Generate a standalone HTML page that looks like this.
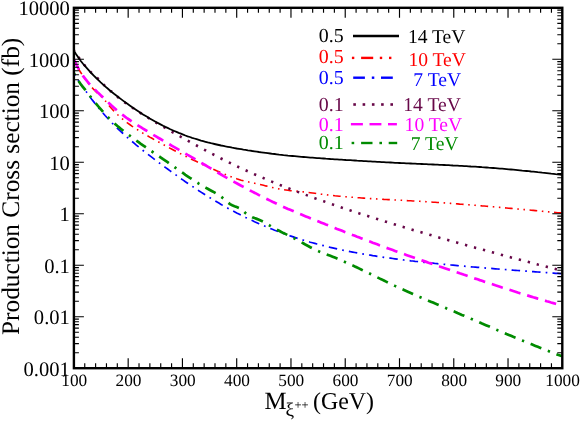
<!DOCTYPE html>
<html><head><meta charset="utf-8"><title>plot</title>
<style>
html,body{margin:0;padding:0;background:#fff;}
body{width:581px;height:422px;overflow:hidden;font-family:"Liberation Serif",serif;}
svg{display:block;will-change:transform;}
text{font-family:"Liberation Serif",serif;text-rendering:geometricPrecision;}
</style></head><body>
<svg width="581" height="422" viewBox="0 0 581 422">
<rect x="0" y="0" width="581" height="422" fill="#ffffff"/>

<defs><clipPath id="c"><rect x="73.9" y="7.8" width="488.4" height="360.4"/></clipPath></defs>
<g clip-path="url(#c)" fill="none">
<path d="M73.9,60.1 L76.1,64.5 L78.4,68.5 L80.6,72.3 L82.8,75.8 L85.1,79.0 L87.3,82.0 L89.5,84.8 L91.7,87.3 L94.0,89.7 L96.2,91.8 L98.4,93.9 L100.7,96.0 L102.9,98.1 L105.1,100.6 L107.4,103.4 L109.6,106.2 L111.8,108.7 L114.0,111.1 L116.3,113.4 L118.5,115.5 L120.7,117.5 L123.0,119.4 L125.2,121.1 L127.4,122.9 L129.7,124.5 L131.9,126.1 L134.1,127.6 L136.3,129.0 L138.6,130.4 L140.8,131.8 L143.0,133.2 L145.3,134.5 L147.5,135.8 L149.7,137.1 L152.0,138.3 L154.2,139.6 L156.4,140.8 L158.6,142.0 L160.9,143.3 L163.1,144.5 L165.3,145.7 L167.6,146.9 L169.8,148.1 L172.0,149.3 L174.3,150.5 L176.5,151.6 L178.7,152.8 L180.9,153.9 L183.2,155.1 L185.4,156.2 L187.6,157.3 L189.9,158.4 L192.1,159.5 L194.3,160.6 L196.6,161.6 L198.8,162.7 L201.0,163.7 L203.2,164.8 L205.5,165.8 L207.7,166.8 L209.9,167.8 L212.2,168.8 L214.4,169.8 L216.6,170.8 L218.9,171.7 L221.1,172.7 L223.3,173.6 L225.5,174.5 L227.8,175.4 L230.0,176.3 L232.2,177.2 L234.5,178.0 L236.7,178.8 L238.9,179.5 L241.2,180.2 L243.4,180.7 L245.6,181.3 L247.9,181.8 L250.1,182.3 L252.3,182.7 L254.5,183.2 L256.8,183.7 L259.0,184.3 L261.2,184.8 L263.5,185.3 L265.7,185.9 L267.9,186.4 L270.2,187.0 L272.4,187.5 L274.6,188.0 L276.8,188.4 L279.1,188.9 L281.3,189.3 L283.5,189.7 L285.8,190.0 L288.0,190.3 L290.2,190.6 L292.5,190.8 L294.7,191.0 L296.9,191.2 L299.1,191.4 L301.4,191.7 L303.6,191.9 L305.8,192.1 L308.1,192.4 L310.3,192.7 L312.5,193.0 L314.8,193.3 L317.0,193.6 L319.2,193.9 L321.4,194.2 L323.7,194.5 L325.9,194.7 L328.1,195.0 L330.4,195.3 L332.6,195.5 L334.8,195.8 L337.1,196.0 L339.3,196.2 L341.5,196.4 L343.7,196.6 L346.0,196.8 L348.2,197.0 L350.4,197.2 L352.7,197.3 L354.9,197.5 L357.1,197.7 L359.4,197.8 L361.6,198.0 L363.8,198.1 L366.0,198.3 L368.3,198.4 L370.5,198.6 L372.7,198.7 L375.0,198.8 L377.2,199.0 L379.4,199.1 L381.7,199.2 L383.9,199.4 L386.1,199.5 L388.3,199.6 L390.6,199.7 L392.8,199.9 L395.0,200.0 L397.3,200.1 L399.5,200.2 L401.7,200.3 L404.0,200.5 L406.2,200.6 L408.4,200.7 L410.7,200.8 L412.9,201.0 L415.1,201.1 L417.3,201.2 L419.6,201.3 L421.8,201.5 L424.0,201.6 L426.3,201.7 L428.5,201.9 L430.7,202.0 L433.0,202.2 L435.2,202.3 L437.4,202.5 L439.6,202.6 L441.9,202.8 L444.1,202.9 L446.3,203.1 L448.6,203.2 L450.8,203.4 L453.0,203.6 L455.3,203.7 L457.5,203.9 L459.7,204.1 L461.9,204.2 L464.2,204.4 L466.4,204.6 L468.6,204.8 L470.9,204.9 L473.1,205.1 L475.3,205.3 L477.6,205.5 L479.8,205.7 L482.0,205.9 L484.2,206.0 L486.5,206.2 L488.7,206.4 L490.9,206.6 L493.2,206.8 L495.4,207.0 L497.6,207.2 L499.9,207.4 L502.1,207.6 L504.3,207.8 L506.5,208.0 L508.8,208.2 L511.0,208.4 L513.2,208.6 L515.5,208.8 L517.7,209.0 L519.9,209.2 L522.2,209.4 L524.4,209.6 L526.6,209.8 L528.8,210.0 L531.1,210.2 L533.3,210.4 L535.5,210.6 L537.8,210.8 L540.0,211.0 L542.2,211.3 L544.5,211.5 L546.7,211.7 L548.9,211.9 L551.1,212.1 L553.4,212.3 L555.6,212.5 L557.8,212.7 L560.1,212.9 L562.3,213.1" stroke="#ff0000" stroke-width="1.6" stroke-dasharray="1.54 4.62 7.70 4.62 1.54 4.62" stroke-dashoffset="-2.3"/>
<path d="M73.9,74.4 L76.1,77.5 L78.4,80.7 L80.6,83.9 L82.8,87.0 L85.1,90.1 L87.3,93.2 L89.5,96.2 L91.7,99.2 L94.0,102.1 L96.2,104.9 L98.4,107.7 L100.7,110.4 L102.9,113.0 L105.1,115.5 L107.4,118.0 L109.6,120.4 L111.8,122.7 L114.0,125.0 L116.3,127.2 L118.5,129.3 L120.7,131.4 L123.0,133.5 L125.2,135.5 L127.4,137.5 L129.7,139.4 L131.9,141.3 L134.1,143.2 L136.3,145.1 L138.6,146.9 L140.8,148.7 L143.0,150.5 L145.3,152.3 L147.5,154.0 L149.7,155.7 L152.0,157.4 L154.2,159.1 L156.4,160.8 L158.6,162.5 L160.9,164.1 L163.1,165.8 L165.3,167.4 L167.6,169.0 L169.8,170.6 L172.0,172.2 L174.3,173.8 L176.5,175.4 L178.7,177.0 L180.9,178.6 L183.2,180.1 L185.4,181.7 L187.6,183.2 L189.9,184.7 L192.1,186.2 L194.3,187.7 L196.6,189.2 L198.8,190.7 L201.0,192.1 L203.2,193.5 L205.5,195.0 L207.7,196.4 L209.9,197.7 L212.2,199.1 L214.4,200.5 L216.6,201.8 L218.9,203.1 L221.1,204.4 L223.3,205.7 L225.5,206.9 L227.8,208.2 L230.0,209.4 L232.2,210.6 L234.5,211.8 L236.7,213.0 L238.9,214.1 L241.2,215.2 L243.4,216.4 L245.6,217.5 L247.9,218.5 L250.1,219.6 L252.3,220.6 L254.5,221.7 L256.8,222.7 L259.0,223.7 L261.2,224.6 L263.5,225.6 L265.7,226.5 L267.9,227.5 L270.2,228.4 L272.4,229.3 L274.6,230.2 L276.8,231.0 L279.1,231.9 L281.3,232.7 L283.5,233.5 L285.8,234.3 L288.0,235.1 L290.2,235.9 L292.5,236.6 L294.7,237.4 L296.9,238.1 L299.1,238.8 L301.4,239.5 L303.6,240.2 L305.8,240.8 L308.1,241.5 L310.3,242.2 L312.5,242.8 L314.8,243.4 L317.0,244.0 L319.2,244.6 L321.4,245.2 L323.7,245.7 L325.9,246.3 L328.1,246.8 L330.4,247.4 L332.6,247.9 L334.8,248.4 L337.1,248.9 L339.3,249.4 L341.5,249.9 L343.7,250.3 L346.0,250.8 L348.2,251.2 L350.4,251.7 L352.7,252.1 L354.9,252.5 L357.1,252.9 L359.4,253.3 L361.6,253.7 L363.8,254.1 L366.0,254.5 L368.3,254.9 L370.5,255.2 L372.7,255.6 L375.0,255.9 L377.2,256.3 L379.4,256.6 L381.7,256.9 L383.9,257.3 L386.1,257.6 L388.3,257.9 L390.6,258.2 L392.8,258.5 L395.0,258.8 L397.3,259.1 L399.5,259.4 L401.7,259.7 L404.0,260.0 L406.2,260.2 L408.4,260.5 L410.7,260.8 L412.9,261.0 L415.1,261.3 L417.3,261.5 L419.6,261.8 L421.8,262.0 L424.0,262.3 L426.3,262.5 L428.5,262.8 L430.7,263.0 L433.0,263.2 L435.2,263.5 L437.4,263.7 L439.6,263.9 L441.9,264.1 L444.1,264.3 L446.3,264.6 L448.6,264.8 L450.8,265.0 L453.0,265.2 L455.3,265.4 L457.5,265.6 L459.7,265.8 L461.9,266.0 L464.2,266.2 L466.4,266.4 L468.6,266.6 L470.9,266.8 L473.1,267.0 L475.3,267.1 L477.6,267.3 L479.8,267.5 L482.0,267.7 L484.2,267.9 L486.5,268.1 L488.7,268.2 L490.9,268.4 L493.2,268.6 L495.4,268.8 L497.6,269.0 L499.9,269.1 L502.1,269.3 L504.3,269.5 L506.5,269.6 L508.8,269.8 L511.0,270.0 L513.2,270.2 L515.5,270.3 L517.7,270.5 L519.9,270.7 L522.2,270.8 L524.4,271.0 L526.6,271.1 L528.8,271.3 L531.1,271.5 L533.3,271.6 L535.5,271.8 L537.8,272.0 L540.0,272.1 L542.2,272.3 L544.5,272.4 L546.7,272.6 L548.9,272.8 L551.1,272.9 L553.4,273.1 L555.6,273.3 L557.8,273.4 L560.1,273.6 L562.3,273.7" stroke="#0000ff" stroke-width="1.7" stroke-dasharray="8.54 5.12 1.71 5.12" stroke-dashoffset="-7.2"/>
<path d="M73.9,50.3 L76.1,53.7 L78.4,57.0 L80.6,60.2 L82.8,63.1 L85.1,65.9 L87.3,68.5 L89.5,70.9 L91.7,73.0 L94.0,75.0 L96.2,77.0 L98.4,79.0 L100.7,81.1 L102.9,83.5 L105.1,86.2 L107.4,89.1 L109.6,90.8 L111.8,91.7 L114.0,93.3 L116.3,95.6 L118.5,97.7 L120.7,99.4 L123.0,101.1 L125.2,102.8 L127.4,104.4 L129.7,105.9 L131.9,107.4 L134.1,108.9 L136.3,110.4 L138.6,111.8 L140.8,113.2 L143.0,114.7 L145.3,116.0 L147.5,117.4 L149.7,118.8 L152.0,120.1 L154.2,121.5 L156.4,122.8 L158.6,124.1 L160.9,125.4 L163.1,126.7 L165.3,128.0 L167.6,129.3 L169.8,130.6 L172.0,131.9 L174.3,133.1 L176.5,134.4 L178.7,135.7 L180.9,136.9 L183.2,138.1 L185.4,139.4 L187.6,140.6 L189.9,141.9 L192.1,143.1 L194.3,144.3 L196.6,145.5 L198.8,146.7 L201.0,147.9 L203.2,149.1 L205.5,150.3 L207.7,151.5 L209.9,152.7 L212.2,153.9 L214.4,155.0 L216.6,156.2 L218.9,157.3 L221.1,158.5 L223.3,159.6 L225.5,160.7 L227.8,161.8 L230.0,162.9 L232.2,164.0 L234.5,165.0 L236.7,166.1 L238.9,167.2 L241.2,168.2 L243.4,169.2 L245.6,170.3 L247.9,171.3 L250.1,172.3 L252.3,173.3 L254.5,174.3 L256.8,175.2 L259.0,176.2 L261.2,177.2 L263.5,178.1 L265.7,179.1 L267.9,180.0 L270.2,181.0 L272.4,181.9 L274.6,182.8 L276.8,183.7 L279.1,184.6 L281.3,185.5 L283.5,186.4 L285.8,187.3 L288.0,188.2 L290.2,189.0 L292.5,189.9 L294.7,190.7 L296.9,191.6 L299.1,192.4 L301.4,193.3 L303.6,194.1 L305.8,194.9 L308.1,195.7 L310.3,196.6 L312.5,197.4 L314.8,198.2 L317.0,199.0 L319.2,199.8 L321.4,200.6 L323.7,201.3 L325.9,202.1 L328.1,202.9 L330.4,203.7 L332.6,204.4 L334.8,205.2 L337.1,206.0 L339.3,206.7 L341.5,207.5 L343.7,208.2 L346.0,209.0 L348.2,209.7 L350.4,210.4 L352.7,211.2 L354.9,211.9 L357.1,212.6 L359.4,213.4 L361.6,214.1 L363.8,214.8 L366.0,215.5 L368.3,216.2 L370.5,216.9 L372.7,217.6 L375.0,218.3 L377.2,219.0 L379.4,219.7 L381.7,220.4 L383.9,221.1 L386.1,221.8 L388.3,222.5 L390.6,223.2 L392.8,223.9 L395.0,224.5 L397.3,225.2 L399.5,225.9 L401.7,226.6 L404.0,227.2 L406.2,227.9 L408.4,228.6 L410.7,229.2 L412.9,229.9 L415.1,230.5 L417.3,231.2 L419.6,231.9 L421.8,232.5 L424.0,233.2 L426.3,233.8 L428.5,234.5 L430.7,235.1 L433.0,235.8 L435.2,236.4 L437.4,237.0 L439.6,237.7 L441.9,238.3 L444.1,238.9 L446.3,239.6 L448.6,240.2 L450.8,240.8 L453.0,241.5 L455.3,242.1 L457.5,242.7 L459.7,243.4 L461.9,244.0 L464.2,244.6 L466.4,245.2 L468.6,245.8 L470.9,246.5 L473.1,247.1 L475.3,247.7 L477.6,248.3 L479.8,248.9 L482.0,249.5 L484.2,250.1 L486.5,250.7 L488.7,251.4 L490.9,252.0 L493.2,252.6 L495.4,253.2 L497.6,253.8 L499.9,254.4 L502.1,255.0 L504.3,255.6 L506.5,256.2 L508.8,256.8 L511.0,257.4 L513.2,258.0 L515.5,258.6 L517.7,259.2 L519.9,259.7 L522.2,260.3 L524.4,260.9 L526.6,261.5 L528.8,262.1 L531.1,262.7 L533.3,263.3 L535.5,263.9 L537.8,264.5 L540.0,265.0 L542.2,265.6 L544.5,266.2 L546.7,266.8 L548.9,267.4 L551.1,267.9 L553.4,268.5 L555.6,269.1 L557.8,269.7 L560.1,270.2 L562.3,270.8" stroke="#670748" stroke-width="2.6" stroke-dasharray="2.32 6.96" stroke-dashoffset="1.2"/>
<path d="M73.9,50.8 L76.1,54.3 L78.4,57.6 L80.6,60.7 L82.8,63.5 L85.1,66.2 L87.3,68.7 L89.5,71.2 L91.7,73.5 L94.0,75.8 L96.2,78.0 L98.4,80.1 L100.7,82.3 L102.9,84.3 L105.1,86.4 L107.4,88.3 L109.6,90.2 L111.8,92.0 L114.0,93.8 L116.3,95.5 L118.5,97.2 L120.7,98.9 L123.0,100.6 L125.2,102.2 L127.4,103.8 L129.7,105.4 L131.9,107.0 L134.1,108.5 L136.3,110.0 L138.6,111.5 L140.8,113.0 L143.0,114.4 L145.3,115.8 L147.5,117.1 L149.7,118.5 L152.0,119.8 L154.2,121.0 L156.4,122.2 L158.6,123.4 L160.9,124.6 L163.1,125.8 L165.3,126.9 L167.6,127.9 L169.8,129.0 L172.0,130.0 L174.3,131.0 L176.5,131.9 L178.7,132.9 L180.9,133.7 L183.2,134.6 L185.4,135.5 L187.6,136.3 L189.9,137.0 L192.1,137.8 L194.3,138.5 L196.6,139.2 L198.8,139.9 L201.0,140.6 L203.2,141.2 L205.5,141.8 L207.7,142.4 L209.9,142.9 L212.2,143.5 L214.4,144.0 L216.6,144.5 L218.9,145.0 L221.1,145.5 L223.3,145.9 L225.5,146.4 L227.8,146.8 L230.0,147.2 L232.2,147.7 L234.5,148.1 L236.7,148.5 L238.9,148.8 L241.2,149.2 L243.4,149.6 L245.6,149.9 L247.9,150.3 L250.1,150.6 L252.3,151.0 L254.5,151.3 L256.8,151.6 L259.0,152.0 L261.2,152.3 L263.5,152.6 L265.7,152.9 L267.9,153.2 L270.2,153.5 L272.4,153.8 L274.6,154.0 L276.8,154.3 L279.1,154.6 L281.3,154.8 L283.5,155.1 L285.8,155.3 L288.0,155.6 L290.2,155.8 L292.5,156.0 L294.7,156.2 L296.9,156.4 L299.1,156.6 L301.4,156.8 L303.6,157.0 L305.8,157.2 L308.1,157.4 L310.3,157.6 L312.5,157.7 L314.8,157.9 L317.0,158.1 L319.2,158.2 L321.4,158.4 L323.7,158.5 L325.9,158.7 L328.1,158.8 L330.4,159.0 L332.6,159.1 L334.8,159.3 L337.1,159.4 L339.3,159.6 L341.5,159.7 L343.7,159.8 L346.0,160.0 L348.2,160.1 L350.4,160.2 L352.7,160.4 L354.9,160.5 L357.1,160.7 L359.4,160.8 L361.6,160.9 L363.8,161.1 L366.0,161.2 L368.3,161.3 L370.5,161.4 L372.7,161.6 L375.0,161.7 L377.2,161.8 L379.4,161.9 L381.7,162.1 L383.9,162.2 L386.1,162.3 L388.3,162.4 L390.6,162.5 L392.8,162.6 L395.0,162.8 L397.3,162.9 L399.5,163.0 L401.7,163.1 L404.0,163.2 L406.2,163.3 L408.4,163.4 L410.7,163.5 L412.9,163.6 L415.1,163.7 L417.3,163.8 L419.6,163.9 L421.8,164.0 L424.0,164.1 L426.3,164.2 L428.5,164.3 L430.7,164.4 L433.0,164.5 L435.2,164.6 L437.4,164.7 L439.6,164.8 L441.9,164.9 L444.1,165.0 L446.3,165.1 L448.6,165.2 L450.8,165.3 L453.0,165.5 L455.3,165.6 L457.5,165.7 L459.7,165.8 L461.9,165.9 L464.2,166.1 L466.4,166.2 L468.6,166.3 L470.9,166.5 L473.1,166.6 L475.3,166.7 L477.6,166.9 L479.8,167.0 L482.0,167.2 L484.2,167.3 L486.5,167.5 L488.7,167.7 L490.9,167.8 L493.2,168.0 L495.4,168.2 L497.6,168.4 L499.9,168.6 L502.1,168.7 L504.3,168.9 L506.5,169.1 L508.8,169.3 L511.0,169.5 L513.2,169.7 L515.5,169.9 L517.7,170.1 L519.9,170.3 L522.2,170.6 L524.4,170.8 L526.6,171.0 L528.8,171.2 L531.1,171.5 L533.3,171.7 L535.5,171.9 L537.8,172.2 L540.0,172.4 L542.2,172.7 L544.5,172.9 L546.7,173.1 L548.9,173.4 L551.1,173.7 L553.4,173.9 L555.6,174.2 L557.8,174.4 L560.1,174.7 L562.3,175.0" stroke="#000000" stroke-width="1.8"/>
<path d="M73.9,59.2 L76.1,64.1 L78.4,68.4 L80.6,72.2 L82.8,75.6 L85.1,78.6 L87.3,81.4 L89.5,84.0 L91.7,86.4 L94.0,88.7 L96.2,90.9 L98.4,93.1 L100.7,95.2 L102.9,97.3 L105.1,99.4 L107.4,101.6 L109.6,103.7 L111.8,105.8 L114.0,107.8 L116.3,109.8 L118.5,111.7 L120.7,113.5 L123.0,115.2 L125.2,116.9 L127.4,118.5 L129.7,120.0 L131.9,121.5 L134.1,123.0 L136.3,124.4 L138.6,125.8 L140.8,127.2 L143.0,128.6 L145.3,130.0 L147.5,131.3 L149.7,132.7 L152.0,134.0 L154.2,135.4 L156.4,136.7 L158.6,138.0 L160.9,139.3 L163.1,140.6 L165.3,141.9 L167.6,143.2 L169.8,144.5 L172.0,145.8 L174.3,147.1 L176.5,148.4 L178.7,149.7 L180.9,151.0 L183.2,152.3 L185.4,153.6 L187.6,154.9 L189.9,156.1 L192.1,157.4 L194.3,158.7 L196.6,160.0 L198.8,161.4 L201.0,162.7 L203.2,164.0 L205.5,165.3 L207.7,166.6 L209.9,167.9 L212.2,169.2 L214.4,170.5 L216.6,171.9 L218.9,173.2 L221.1,174.5 L223.3,175.8 L225.5,177.1 L227.8,178.3 L230.0,179.6 L232.2,180.9 L234.5,182.1 L236.7,183.3 L238.9,184.5 L241.2,185.7 L243.4,186.9 L245.6,188.1 L247.9,189.3 L250.1,190.5 L252.3,191.6 L254.5,192.8 L256.8,193.9 L259.0,195.1 L261.2,196.2 L263.5,197.3 L265.7,198.4 L267.9,199.5 L270.2,200.6 L272.4,201.7 L274.6,202.7 L276.8,203.8 L279.1,204.8 L281.3,205.9 L283.5,206.9 L285.8,207.9 L288.0,208.9 L290.2,209.8 L292.5,210.8 L294.7,211.8 L296.9,212.7 L299.1,213.7 L301.4,214.6 L303.6,215.5 L305.8,216.4 L308.1,217.3 L310.3,218.2 L312.5,219.1 L314.8,220.0 L317.0,220.9 L319.2,221.8 L321.4,222.7 L323.7,223.6 L325.9,224.5 L328.1,225.3 L330.4,226.2 L332.6,227.1 L334.8,228.0 L337.1,228.9 L339.3,229.7 L341.5,230.6 L343.7,231.5 L346.0,232.4 L348.2,233.2 L350.4,234.1 L352.7,235.0 L354.9,235.8 L357.1,236.7 L359.4,237.5 L361.6,238.4 L363.8,239.3 L366.0,240.1 L368.3,241.0 L370.5,241.8 L372.7,242.7 L375.0,243.5 L377.2,244.3 L379.4,245.2 L381.7,246.0 L383.9,246.8 L386.1,247.7 L388.3,248.5 L390.6,249.3 L392.8,250.1 L395.0,250.9 L397.3,251.7 L399.5,252.5 L401.7,253.3 L404.0,254.1 L406.2,254.9 L408.4,255.7 L410.7,256.5 L412.9,257.3 L415.1,258.1 L417.3,258.8 L419.6,259.6 L421.8,260.4 L424.0,261.1 L426.3,261.9 L428.5,262.7 L430.7,263.4 L433.0,264.2 L435.2,265.0 L437.4,265.7 L439.6,266.5 L441.9,267.2 L444.1,268.0 L446.3,268.7 L448.6,269.5 L450.8,270.3 L453.0,271.0 L455.3,271.8 L457.5,272.5 L459.7,273.3 L461.9,274.0 L464.2,274.8 L466.4,275.5 L468.6,276.3 L470.9,277.0 L473.1,277.8 L475.3,278.6 L477.6,279.3 L479.8,280.1 L482.0,280.8 L484.2,281.6 L486.5,282.3 L488.7,283.0 L490.9,283.8 L493.2,284.5 L495.4,285.3 L497.6,286.0 L499.9,286.7 L502.1,287.5 L504.3,288.2 L506.5,288.9 L508.8,289.6 L511.0,290.3 L513.2,291.0 L515.5,291.7 L517.7,292.5 L519.9,293.2 L522.2,293.8 L524.4,294.5 L526.6,295.2 L528.8,295.9 L531.1,296.6 L533.3,297.3 L535.5,297.9 L537.8,298.6 L540.0,299.2 L542.2,299.9 L544.5,300.5 L546.7,301.2 L548.9,301.8 L551.1,302.5 L553.4,303.1 L555.6,303.7 L557.8,304.3 L560.1,304.9 L562.3,305.5" stroke="#ff00ff" stroke-width="2.7" stroke-dasharray="11.60 6.96" stroke-dashoffset="0"/>
<path d="M73.9,73.0 L76.1,77.3 L78.4,80.9 L80.6,84.0 L82.8,86.8 L85.1,89.7 L87.3,92.5 L89.5,95.4 L91.7,98.2 L94.0,101.1 L96.2,103.8 L98.4,106.5 L100.7,109.2 L102.9,111.7 L105.1,114.2 L107.4,116.5 L109.6,118.8 L111.8,120.9 L114.0,123.0 L116.3,125.0 L118.5,126.9 L120.7,128.7 L123.0,130.5 L125.2,132.3 L127.4,134.0 L129.7,135.7 L131.9,137.4 L134.1,139.0 L136.3,140.6 L138.6,142.2 L140.8,143.8 L143.0,145.3 L145.3,146.9 L147.5,148.4 L149.7,150.0 L152.0,151.5 L154.2,153.0 L156.4,154.6 L158.6,156.1 L160.9,157.6 L163.1,159.2 L165.3,160.7 L167.6,162.2 L169.8,163.8 L172.0,165.4 L174.3,166.9 L176.5,168.5 L178.7,170.1 L180.9,171.6 L183.2,173.2 L185.4,174.8 L187.6,176.3 L189.9,177.8 L192.1,179.3 L194.3,180.7 L196.6,182.2 L198.8,183.6 L201.0,184.9 L203.2,186.3 L205.5,187.6 L207.7,188.8 L209.9,190.0 L212.2,191.2 L214.4,192.4 L216.6,193.7 L218.9,195.1 L221.1,196.7 L223.3,198.4 L225.5,200.3 L227.8,202.3 L230.0,204.1 L232.2,205.3 L234.5,206.2 L236.7,207.0 L238.9,207.9 L241.2,209.3 L243.4,211.2 L245.6,213.2 L247.9,214.8 L250.1,216.1 L252.3,217.2 L254.5,218.1 L256.8,218.9 L259.0,219.7 L261.2,220.7 L263.5,221.8 L265.7,223.1 L267.9,224.4 L270.2,225.8 L272.4,227.2 L274.6,228.4 L276.8,229.7 L279.1,230.8 L281.3,232.0 L283.5,233.1 L285.8,234.1 L288.0,235.2 L290.2,236.3 L292.5,237.5 L294.7,238.6 L296.9,239.8 L299.1,241.0 L301.4,242.3 L303.6,243.5 L305.8,244.8 L308.1,246.0 L310.3,247.2 L312.5,248.4 L314.8,249.5 L317.0,250.5 L319.2,251.5 L321.4,252.4 L323.7,253.3 L325.9,254.2 L328.1,255.0 L330.4,255.8 L332.6,256.7 L334.8,257.6 L337.1,258.5 L339.3,259.4 L341.5,260.4 L343.7,261.4 L346.0,262.4 L348.2,263.4 L350.4,264.4 L352.7,265.4 L354.9,266.5 L357.1,267.5 L359.4,268.6 L361.6,269.7 L363.8,270.7 L366.0,271.8 L368.3,272.9 L370.5,274.0 L372.7,275.1 L375.0,276.2 L377.2,277.3 L379.4,278.4 L381.7,279.4 L383.9,280.5 L386.1,281.6 L388.3,282.7 L390.6,283.8 L392.8,284.8 L395.0,285.9 L397.3,286.9 L399.5,288.0 L401.7,289.0 L404.0,290.0 L406.2,291.0 L408.4,292.0 L410.7,293.0 L412.9,294.0 L415.1,295.0 L417.3,296.0 L419.6,296.9 L421.8,297.9 L424.0,298.9 L426.3,299.8 L428.5,300.8 L430.7,301.7 L433.0,302.6 L435.2,303.6 L437.4,304.5 L439.6,305.5 L441.9,306.4 L444.1,307.3 L446.3,308.3 L448.6,309.2 L450.8,310.1 L453.0,311.1 L455.3,312.0 L457.5,313.0 L459.7,313.9 L461.9,314.9 L464.2,315.8 L466.4,316.8 L468.6,317.7 L470.9,318.7 L473.1,319.6 L475.3,320.6 L477.6,321.5 L479.8,322.5 L482.0,323.5 L484.2,324.4 L486.5,325.4 L488.7,326.3 L490.9,327.3 L493.2,328.3 L495.4,329.2 L497.6,330.2 L499.9,331.1 L502.1,332.1 L504.3,333.0 L506.5,334.0 L508.8,334.9 L511.0,335.8 L513.2,336.8 L515.5,337.7 L517.7,338.6 L519.9,339.6 L522.2,340.5 L524.4,341.4 L526.6,342.3 L528.8,343.2 L531.1,344.1 L533.3,345.0 L535.5,345.9 L537.8,346.8 L540.0,347.7 L542.2,348.6 L544.5,349.5 L546.7,350.4 L548.9,351.2 L551.1,352.1 L553.4,353.0 L555.6,353.8 L557.8,354.7 L560.1,355.5 L562.3,356.3" stroke="#008b00" stroke-width="2.7" stroke-dasharray="2.32 6.96 11.60 6.96" stroke-dashoffset="0"/>
</g>
<path d="M73.90,368.2v-10M73.90,7.8v10M84.75,368.2v-5M84.75,7.8v5M95.61,368.2v-5M95.61,7.8v5M106.46,368.2v-5M106.46,7.8v5M117.31,368.2v-5M117.31,7.8v5M128.17,368.2v-10M128.17,7.8v10M139.02,368.2v-5M139.02,7.8v5M149.87,368.2v-5M149.87,7.8v5M160.73,368.2v-5M160.73,7.8v5M171.58,368.2v-5M171.58,7.8v5M182.43,368.2v-10M182.43,7.8v10M193.29,368.2v-5M193.29,7.8v5M204.14,368.2v-5M204.14,7.8v5M214.99,368.2v-5M214.99,7.8v5M225.85,368.2v-5M225.85,7.8v5M236.70,368.2v-10M236.70,7.8v10M247.55,368.2v-5M247.55,7.8v5M258.41,368.2v-5M258.41,7.8v5M269.26,368.2v-5M269.26,7.8v5M280.11,368.2v-5M280.11,7.8v5M290.97,368.2v-10M290.97,7.8v10M301.82,368.2v-5M301.82,7.8v5M312.67,368.2v-5M312.67,7.8v5M323.53,368.2v-5M323.53,7.8v5M334.38,368.2v-5M334.38,7.8v5M345.23,368.2v-10M345.23,7.8v10M356.09,368.2v-5M356.09,7.8v5M366.94,368.2v-5M366.94,7.8v5M377.79,368.2v-5M377.79,7.8v5M388.65,368.2v-5M388.65,7.8v5M399.50,368.2v-10M399.50,7.8v10M410.35,368.2v-5M410.35,7.8v5M421.21,368.2v-5M421.21,7.8v5M432.06,368.2v-5M432.06,7.8v5M442.91,368.2v-5M442.91,7.8v5M453.77,368.2v-10M453.77,7.8v10M464.62,368.2v-5M464.62,7.8v5M475.47,368.2v-5M475.47,7.8v5M486.33,368.2v-5M486.33,7.8v5M497.18,368.2v-5M497.18,7.8v5M508.03,368.2v-10M508.03,7.8v10M518.89,368.2v-5M518.89,7.8v5M529.74,368.2v-5M529.74,7.8v5M540.59,368.2v-5M540.59,7.8v5M551.45,368.2v-5M551.45,7.8v5M562.30,368.2v-10M562.30,7.8v10M73.9,368.20h10M562.3,368.20h-10M73.9,352.70h5M562.3,352.70h-5M73.9,343.64h5M562.3,343.64h-5M73.9,337.20h5M562.3,337.20h-5M73.9,332.21h5M562.3,332.21h-5M73.9,328.14h5M562.3,328.14h-5M73.9,324.69h5M562.3,324.69h-5M73.9,321.70h5M562.3,321.70h-5M73.9,319.07h5M562.3,319.07h-5M73.9,316.71h10M562.3,316.71h-10M73.9,301.22h5M562.3,301.22h-5M73.9,292.15h5M562.3,292.15h-5M73.9,285.72h5M562.3,285.72h-5M73.9,280.73h5M562.3,280.73h-5M73.9,276.65h5M562.3,276.65h-5M73.9,273.20h5M562.3,273.20h-5M73.9,270.22h5M562.3,270.22h-5M73.9,267.58h5M562.3,267.58h-5M73.9,265.23h10M562.3,265.23h-10M73.9,249.73h5M562.3,249.73h-5M73.9,240.66h5M562.3,240.66h-5M73.9,234.23h5M562.3,234.23h-5M73.9,229.24h5M562.3,229.24h-5M73.9,225.16h5M562.3,225.16h-5M73.9,221.72h5M562.3,221.72h-5M73.9,218.73h5M562.3,218.73h-5M73.9,216.10h5M562.3,216.10h-5M73.9,213.74h10M562.3,213.74h-10M73.9,198.24h5M562.3,198.24h-5M73.9,189.18h5M562.3,189.18h-5M73.9,182.75h5M562.3,182.75h-5M73.9,177.76h5M562.3,177.76h-5M73.9,173.68h5M562.3,173.68h-5M73.9,170.23h5M562.3,170.23h-5M73.9,167.25h5M562.3,167.25h-5M73.9,164.61h5M562.3,164.61h-5M73.9,162.26h10M562.3,162.26h-10M73.9,146.76h5M562.3,146.76h-5M73.9,137.69h5M562.3,137.69h-5M73.9,131.26h5M562.3,131.26h-5M73.9,126.27h5M562.3,126.27h-5M73.9,122.19h5M562.3,122.19h-5M73.9,118.75h5M562.3,118.75h-5M73.9,115.76h5M562.3,115.76h-5M73.9,113.13h5M562.3,113.13h-5M73.9,110.77h10M562.3,110.77h-10M73.9,95.27h5M562.3,95.27h-5M73.9,86.21h5M562.3,86.21h-5M73.9,79.77h5M562.3,79.77h-5M73.9,74.78h5M562.3,74.78h-5M73.9,70.71h5M562.3,70.71h-5M73.9,67.26h5M562.3,67.26h-5M73.9,64.28h5M562.3,64.28h-5M73.9,61.64h5M562.3,61.64h-5M73.9,59.29h10M562.3,59.29h-10M73.9,43.79h5M562.3,43.79h-5M73.9,34.72h5M562.3,34.72h-5M73.9,28.29h5M562.3,28.29h-5M73.9,23.30h5M562.3,23.30h-5M73.9,19.22h5M562.3,19.22h-5M73.9,15.78h5M562.3,15.78h-5M73.9,12.79h5M562.3,12.79h-5M73.9,10.16h5M562.3,10.16h-5" stroke="#000" stroke-width="1.15" fill="none"/>
<rect x="73.9" y="7.8" width="488.4" height="360.4" fill="none" stroke="#000" stroke-width="2.4"/>
<text x="74.2" y="385.7" font-size="17.3" text-anchor="middle">100</text>
<text x="128.5" y="385.7" font-size="17.3" text-anchor="middle">200</text>
<text x="182.7" y="385.7" font-size="17.3" text-anchor="middle">300</text>
<text x="237.0" y="385.7" font-size="17.3" text-anchor="middle">400</text>
<text x="291.3" y="385.7" font-size="17.3" text-anchor="middle">500</text>
<text x="345.5" y="385.7" font-size="17.3" text-anchor="middle">600</text>
<text x="399.8" y="385.7" font-size="17.3" text-anchor="middle">700</text>
<text x="454.1" y="385.7" font-size="17.3" text-anchor="middle">800</text>
<text x="508.3" y="385.7" font-size="17.3" text-anchor="middle">900</text>
<text x="562.6" y="385.7" font-size="17.3" text-anchor="middle">1000</text>
<text x="69.9" y="375.5" font-size="20.6" text-anchor="end">0.001</text>
<text x="69.9" y="324.0" font-size="20.6" text-anchor="end">0.01</text>
<text x="69.9" y="272.5" font-size="20.6" text-anchor="end">0.1</text>
<text x="69.9" y="221.0" font-size="20.6" text-anchor="end">1</text>
<text x="69.9" y="169.6" font-size="20.6" text-anchor="end">10</text>
<text x="69.9" y="118.1" font-size="20.6" text-anchor="end">100</text>
<text x="69.9" y="66.6" font-size="20.6" text-anchor="end">1000</text>
<text x="69.9" y="15.1" font-size="20.6" text-anchor="end">10000</text>
<text x="264.5" y="408.7" font-size="24.8">M</text><text x="285.5" y="415.6" font-size="19.4">ξ</text><text x="294.5" y="408.6" font-size="12.5">++</text><text x="313" y="408.7" font-size="24.2" textLength="61" lengthAdjust="spacingAndGlyphs">(GeV)</text>
<text transform="translate(19,335) rotate(-90)" font-size="25.3">Production Cross section (fb)</text>
<text x="318.74" y="42.0" font-size="19.9" fill="#000000">0.5</text>
<text x="407.88" y="42.8" font-size="19.6" fill="#000000">14 TeV</text>
<text x="318.74" y="63.1" font-size="19.9" fill="#ff0000">0.5</text>
<text x="408.38" y="65.8" font-size="19.6" fill="#ff0000">10 TeV</text>
<text x="318.74" y="84.2" font-size="19.9" fill="#0000ff">0.5</text>
<text x="413.31" y="86.3" font-size="19.6" fill="#0000ff">7 TeV</text>
<text x="318.74" y="110.9" font-size="19.9" fill="#670748">0.1</text>
<text x="403.28" y="110.9" font-size="19.6" fill="#670748">14 TeV</text>
<text x="318.74" y="131.1" font-size="19.9" fill="#ff00ff">0.1</text>
<text x="404.58" y="131.1" font-size="19.6" fill="#ff00ff">10 TeV</text>
<text x="318.74" y="149.2" font-size="19.9" fill="#008b00">0.1</text>
<text x="410.71" y="150.4" font-size="19.6" fill="#008b00">7 TeV</text>
<line x1="353" x2="399" y1="36.0" y2="36.0" stroke="#000000" stroke-width="2.4"/>
<line x1="351.9" x2="354.3" y1="57.9" y2="57.9" stroke="#ff0000" stroke-width="2.4"/><line x1="361.1" x2="373.2" y1="57.9" y2="57.9" stroke="#ff0000" stroke-width="2.4"/><line x1="379.8" x2="382.2" y1="57.9" y2="57.9" stroke="#ff0000" stroke-width="2.4"/><line x1="389" x2="391.4" y1="57.9" y2="57.9" stroke="#ff0000" stroke-width="2.4"/>
<line x1="353.2" x2="364.9" y1="77.7" y2="77.7" stroke="#0000ff" stroke-width="2.4"/><line x1="371.8" x2="374.3" y1="77.7" y2="77.7" stroke="#0000ff" stroke-width="2.4"/><line x1="381" x2="392.8" y1="77.7" y2="77.7" stroke="#0000ff" stroke-width="2.4"/>
<line x1="353.3" x2="355.9" y1="104.5" y2="104.5" stroke="#670748" stroke-width="2.6"/><line x1="362.6" x2="365.2" y1="104.5" y2="104.5" stroke="#670748" stroke-width="2.6"/><line x1="371.9" x2="374.5" y1="104.5" y2="104.5" stroke="#670748" stroke-width="2.6"/><line x1="381.1" x2="383.7" y1="104.5" y2="104.5" stroke="#670748" stroke-width="2.6"/><line x1="390.4" x2="393.0" y1="104.5" y2="104.5" stroke="#670748" stroke-width="2.6"/>
<line x1="350.9" x2="362.9" y1="124.2" y2="124.2" stroke="#ff00ff" stroke-width="2.4"/><line x1="369.5" x2="381.4" y1="124.2" y2="124.2" stroke="#ff00ff" stroke-width="2.4"/><line x1="388" x2="396.9" y1="124.2" y2="124.2" stroke="#ff00ff" stroke-width="2.4"/>
<line x1="351.6" x2="354.2" y1="143.0" y2="143.0" stroke="#008b00" stroke-width="2.4"/><line x1="361.1" x2="372.5" y1="143.0" y2="143.0" stroke="#008b00" stroke-width="2.4"/><line x1="379.4" x2="382.0" y1="143.0" y2="143.0" stroke="#008b00" stroke-width="2.4"/><line x1="388.7" x2="397.2" y1="143.0" y2="143.0" stroke="#008b00" stroke-width="2.4"/>
</svg></body></html>
